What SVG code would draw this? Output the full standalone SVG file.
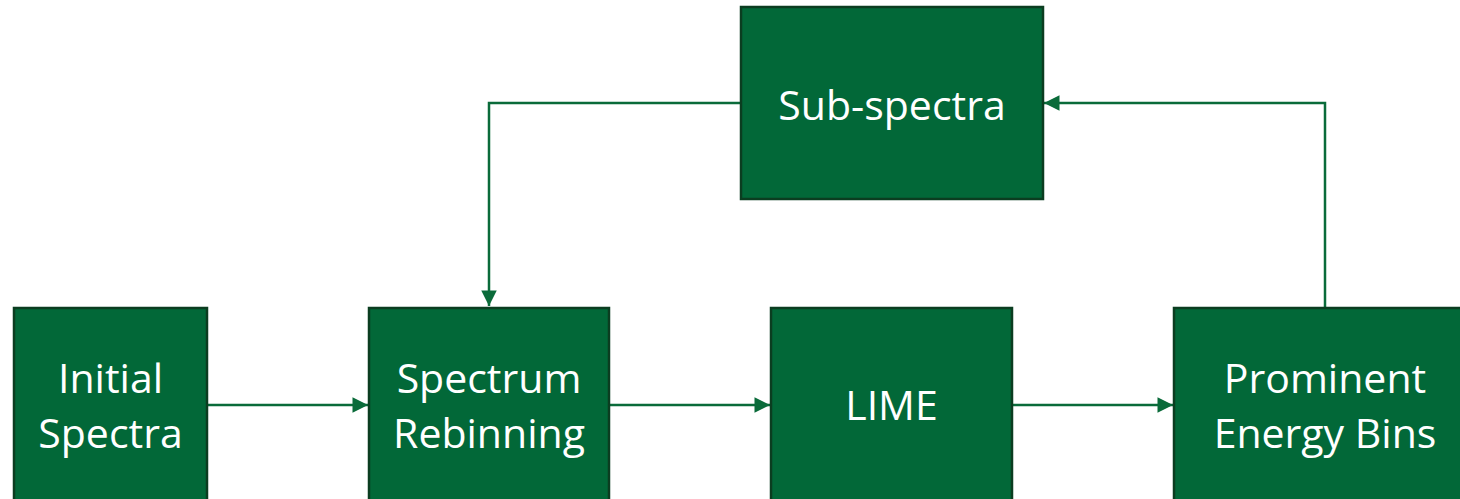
<svg xmlns="http://www.w3.org/2000/svg" width="1460" height="499" viewBox="0 0 1460 499">
  <style>
    .box { fill: #026838; stroke: #0b3d20; stroke-width: 2.5; }
    .label { fill: #ffffff; font-family: "Open Sans", "Liberation Sans", sans-serif; font-size: 41px; text-anchor: middle; }
    .link { fill: none; stroke: #0a6b3a; stroke-width: 2.5; }
  </style>
  <defs>
    <marker id="arrow" viewBox="0 0 10 10" refX="10" refY="5" markerWidth="6.4" markerHeight="6.2" markerUnits="strokeWidth" orient="auto">
      <path d="M0,0 L10,5 L0,10 z" fill="#0a6b3a"/>
    </marker>
  </defs>
  <rect width="1460" height="499" fill="#ffffff"/>

  <g id="connectors">
    <line class="link" x1="207" y1="405" x2="368" y2="405" marker-end="url(#arrow)"/>
    <line class="link" x1="609" y1="405" x2="770" y2="405" marker-end="url(#arrow)"/>
    <line class="link" x1="1012" y1="405" x2="1173" y2="405" marker-end="url(#arrow)"/>
    <polyline class="link" points="1325,308 1325,103 1044,103" marker-end="url(#arrow)"/>
    <polyline class="link" points="741,103 489,103 489,306" marker-end="url(#arrow)"/>
  </g>

  <g id="initial-spectra">
    <rect class="box" x="14" y="308" width="193" height="200"/>
    <text class="label" x="110.5" y="393">Initial</text>
    <text class="label" x="110.5" y="448">Spectra</text>
  </g>

  <g id="spectrum-rebinning">
    <rect class="box" x="369" y="308" width="240" height="200"/>
    <text class="label" x="489" y="393">Spectrum</text>
    <text class="label" x="489" y="448">Rebinning</text>
  </g>

  <g id="lime">
    <rect class="box" x="771" y="308" width="241" height="200"/>
    <text class="label" x="891.5" y="420">LIME</text>
  </g>

  <g id="prominent-energy-bins">
    <rect class="box" x="1174" y="308" width="302" height="200"/>
    <text class="label" x="1325" y="393">Prominent</text>
    <text class="label" x="1325" y="448">Energy Bins</text>
  </g>

  <g id="sub-spectra">
    <rect class="box" x="741" y="7" width="302" height="192"/>
    <text class="label" x="892" y="120">Sub-spectra</text>
  </g>
</svg>
